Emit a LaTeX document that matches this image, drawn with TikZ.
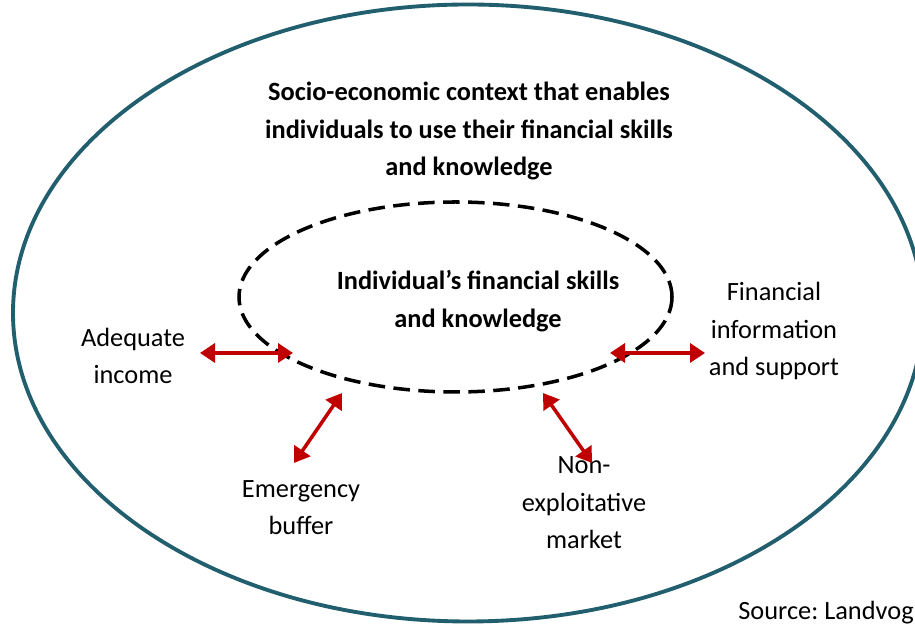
\documentclass[tikz,border=0pt]{standalone}
\usepackage{fontspec}
\setmainfont{Carlito}
\usetikzlibrary{arrows.meta}

\begin{document}
\begin{tikzpicture}[
		boldtext/.style={align=center, font=\fontsize{15}{21.3}\selectfont\bfseries},
		plaintext/.style={align=center, font=\fontsize{15}{21.3}\selectfont},
		redarrow/.style={draw=arrowred, line width=2pt, {Triangle[length=0.3cm,width=0.38cm]}-{Triangle[length=0.3cm,width=0.38cm]}}
	]
					\definecolor{outerteal}{HTML}{215E6E}
					\definecolor{arrowred}{HTML}{C00000}
					\useasboundingbox[fill=white] (0,0) rectangle (18.3,12.48);
					
					% the two contexts
					\draw[outerteal, line width=2.2pt] (9.36,6.22) ellipse [x radius=9.10, y radius=6.17];
					\draw[black, line width=2pt, dash pattern=on 0.33cm off 0.17cm] (9.11,6.54) ellipse [x radius=4.33, y radius=1.90];
					
					% texts
					\node[boldtext] (context) at (9.38,9.86) {Socio-economic context that enables\\individuals to use their financial skills\\and knowledge};
					\node[boldtext] (skills) at (9.56,6.46) {Individual’s financial skills\\and knowledge};
					\node[plaintext] (income) at (2.66,5.36) {Adequate\\income};
					\node[plaintext] (support) at (15.48,5.86) {Financial\\information\\and support};
					\node[plaintext] (buffer) at (6.02,2.33) {Emergency\\buffer};
					\node[plaintext] (market) at (11.68,2.42) {Non-\\exploitative\\market};
					\node[plaintext, anchor=base west, inner sep=0pt] (source) at (14.76,0.08) {Source:\ Landvog};
					
					% arrow ends
					\coordinate (incomeend) at (4.0,5.42);
					\coordinate (incomering) at (5.86,5.42);
					\coordinate (supportring) at (12.2,5.42);
					\coordinate (supportend) at (14.1,5.42);
					\coordinate (bufferring) at (6.84,4.62);
					\coordinate (bufferend) at (5.88,3.22);
					\coordinate (marketring) at (10.86,4.62);
					\coordinate (marketend) at (11.84,3.22);
					
					\draw[redarrow] (incomeend) -- (incomering);
					\draw[redarrow] (supportring) -- (supportend);
					\draw[redarrow] (bufferring) -- (bufferend);
					\draw[redarrow] (marketring) -- (marketend);
\end{tikzpicture}
\end{document}
